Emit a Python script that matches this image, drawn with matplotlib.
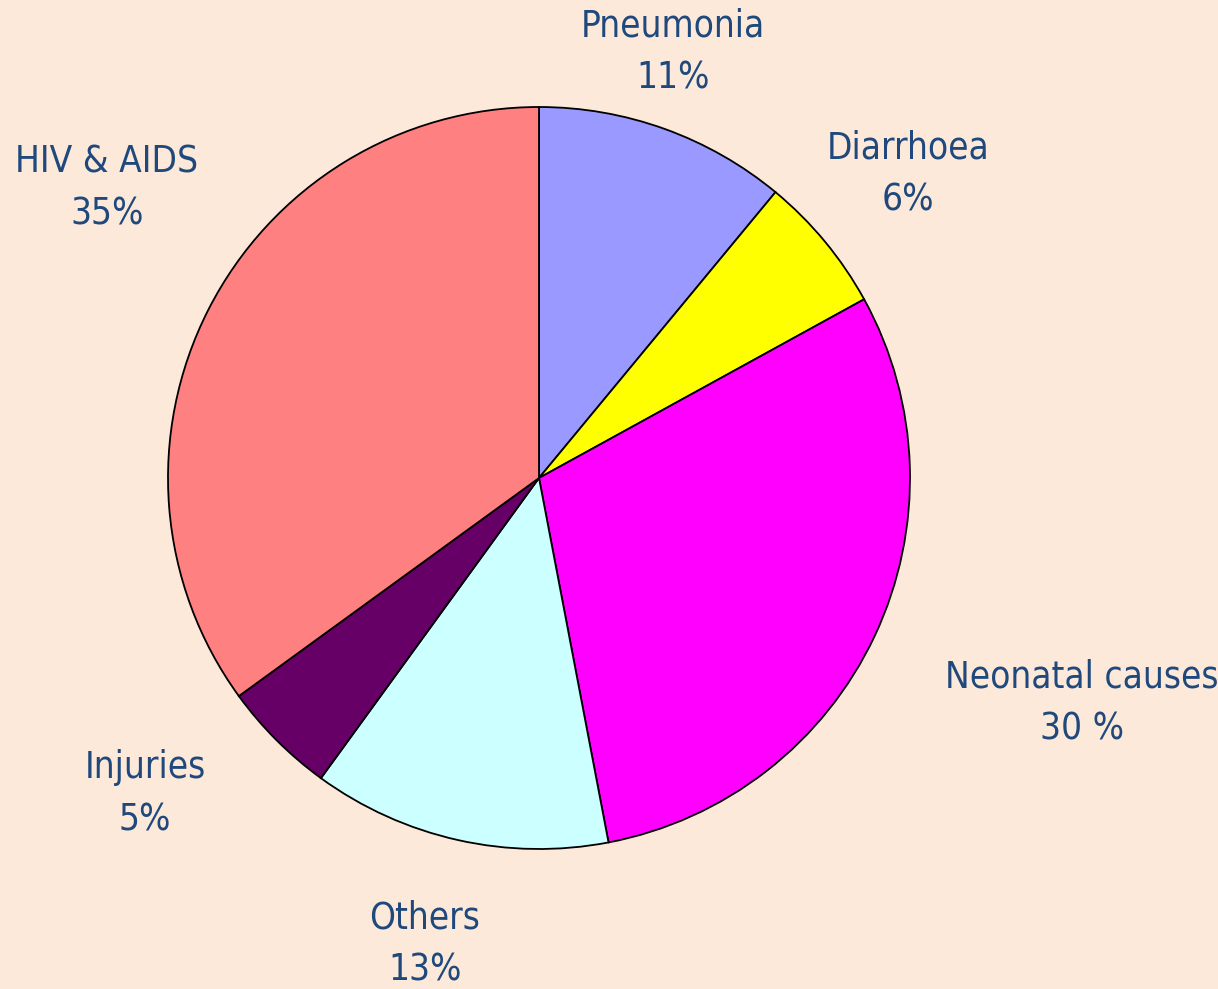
import matplotlib
matplotlib.use('Agg')
import matplotlib.pyplot as plt
from matplotlib import font_manager

# causes of death, clockwise from the top
causes = ['Pneumonia', 'Diarrhoea', 'Neonatal causes', 'Others', 'Injuries', 'HIV & AIDS']
shares = [11, 6, 30, 13, 5, 35]
pct_labels = ['11%', '6%', '30 %', '13%', '5%', '35%']
colors = ['#9999FF', '#FFFF00', '#FF00FF', '#CCFFFF', '#660066', '#FF8080']

# label positions in pixels (centre of the two-line label)
label_xy = [(673, 52), (908, 174), (1082, 703), (425, 944), (145, 794), (107, 188)]

# look for a narrow sans font, otherwise fall back to Liberation Sans
narrow = [f for f in font_manager.fontManager.ttflist
          if ('Narrow' in f.name or 'Condensed' in f.name or 'Narrow' in f.fname
              or f.stretch in ('condensed', 'semi-condensed', 575, 625))
          and f.style == 'normal' and f.weight in (400, 'normal', 'regular')]
if narrow:
    fprop = font_manager.FontProperties(fname=narrow[0].fname, size=26.5)
else:
    fprop = font_manager.FontProperties(family='Liberation Sans', size=25)

bg = '#FDE9DA'
fig = plt.figure(figsize=(12.18, 9.89), dpi=100, facecolor=bg)
ax = fig.add_axes([0, 0, 1, 1])
ax.set_facecolor(bg)

# y axis is inverted below, so startangle=-90 is the top and
# counterclock=True runs clockwise on screen
ax.pie(shares, colors=colors, startangle=-90, counterclock=True,
       center=(539, 478), radius=371, frame=True,
       wedgeprops=dict(edgecolor='black', linewidth=1.3))
ax.set_xlim(0, 1218)
ax.set_ylim(989, 0)
ax.axis('off')

for name, pct, (x, y) in zip(causes, pct_labels, label_xy):
    ax.text(x, y, f'{name}\n{pct}', ha='center', va='center',
            fontproperties=fprop, color='#1F497D', linespacing=1.55)

fig.savefig('out.png', facecolor=bg)
